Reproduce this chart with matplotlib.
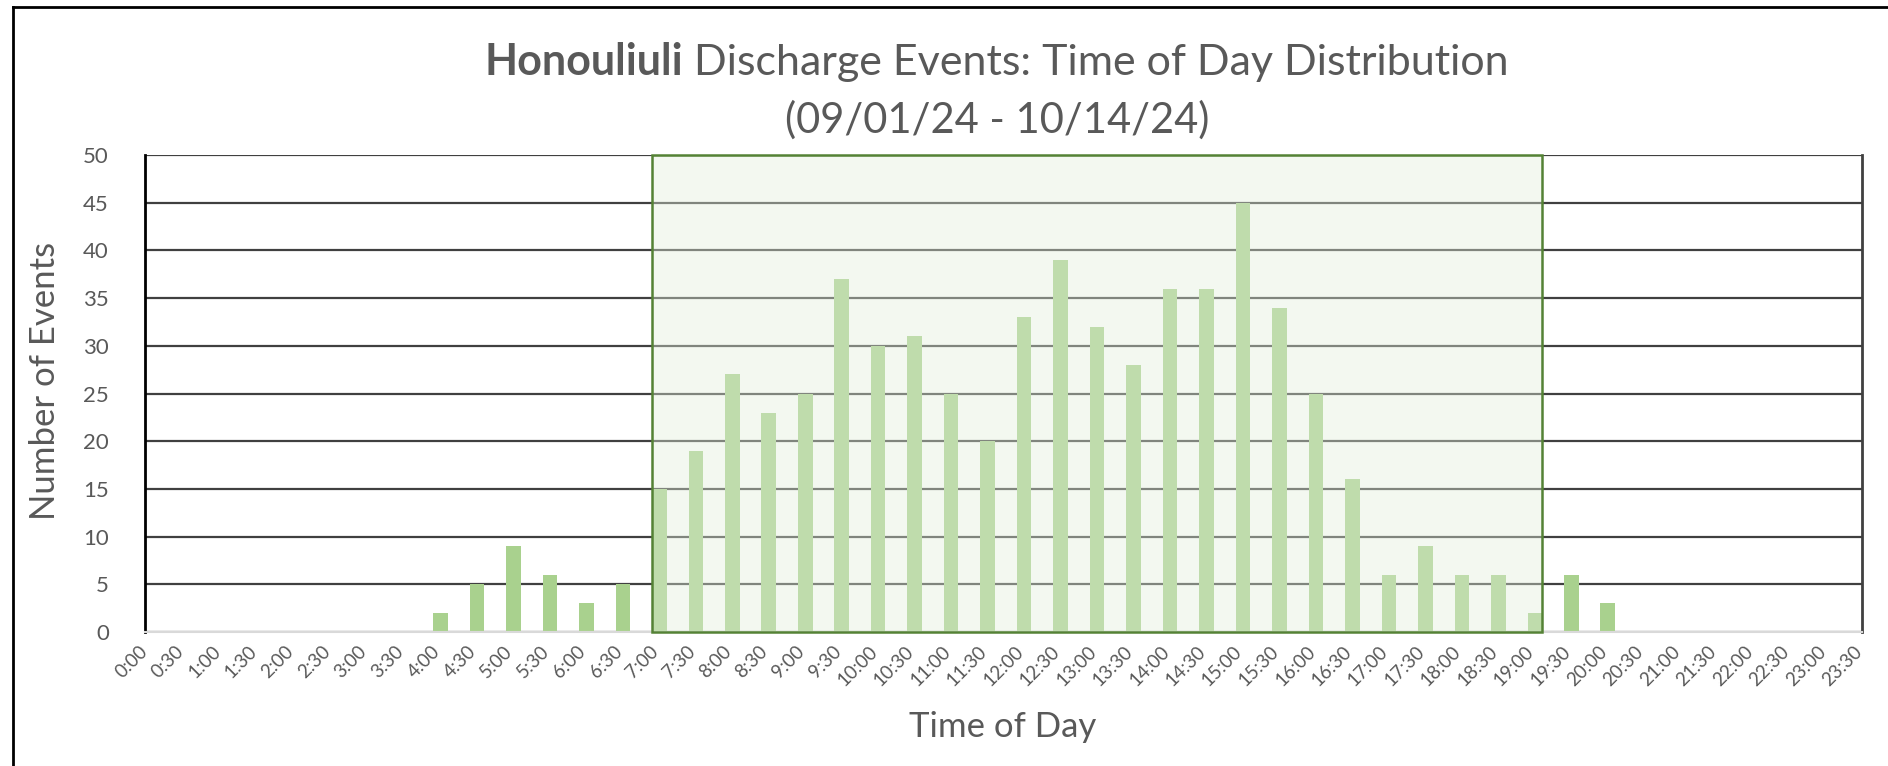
#!/usr/bin/env python
'''
Honouliuli discharge events by time of day (30 min bins)
'''

import numpy as np
import matplotlib
matplotlib.use('Agg')
import matplotlib.pyplot as plt
from matplotlib.patches import Rectangle
from matplotlib.lines import Line2D

# time-of-day bins, 0:00 .. 23:30
times = ['{}:{:02d}'.format(h, m) for h in range(24) for m in (0, 30)]
events = [0, 0, 0, 0, 0, 0, 0, 0,
          2, 5, 9, 6, 3, 5,
          15, 19, 27, 23, 25, 37, 30, 31, 25, 20, 33, 39, 32, 28, 36, 36, 45, 34, 25, 16, 6, 9, 6, 6, 2,
          6, 3,
          0, 0, 0, 0, 0, 0, 0]
window_start = '7:00'
window_end = '19:00'

title_bold = 'Honouliuli'
title_rest = ' Discharge Events: Time of Day Distribution'
title_dates = '(09/01/24 - 10/14/24)'

FONT = 'Lato'
TXT = '#595959'
BAR = '#A9D18E'


def main():
    plt.rcParams['font.family'] = [FONT, 'DejaVu Sans']

    W, H = 1888, 766
    fig = plt.figure(figsize=(W / 100, H / 100), dpi=100)
    ax = fig.add_axes([145 / W, 134 / H, (1862 - 145) / W, (632 - 155) / H])

    x = np.arange(len(times))
    bw = 0.4
    ax.bar(x, events, width=bw, align='edge', color=BAR, zorder=2)

    ax.set_ylim(0, 50)
    ax.set_xlim(0.205, 47.17)
    ax.set_yticks(range(0, 51, 5))
    ax.yaxis.grid(True, color='#404040', linewidth=1.6, zorder=1)
    ax.set_axisbelow(True)

    # daytime window shading
    i0 = times.index(window_start)
    i1 = times.index(window_end)
    ax.add_patch(Rectangle((i0, 0), i1 + bw - i0, 50, facecolor='#E2EFDA', alpha=0.4,
                           edgecolor='none', zorder=3))
    ax.add_patch(Rectangle((i0, 0), i1 + bw - i0, 50, fill=False,
                           edgecolor='#548235', linewidth=1.8, zorder=4, clip_on=False))

    ax.spines['top'].set_visible(False)
    ax.spines['left'].set_color('black')
    ax.spines['left'].set_linewidth(2)
    ax.spines['right'].set_color('#404040')
    ax.spines['right'].set_linewidth(2)
    ax.spines['bottom'].set_color('#D9D9D9')
    ax.spines['bottom'].set_linewidth(1.5)

    ax.set_xticks(x + 0.1)
    ax.set_xticklabels(times, rotation=45, ha='right', va='center', rotation_mode='anchor',
                       fontsize=13.5, color=TXT)
    ax.tick_params(axis='x', length=0, pad=12)
    ax.tick_params(axis='y', length=0, pad=26, labelsize=16, labelcolor=TXT)

    fig.text(45 / W, 1 - 381 / H, 'Number of Events', rotation=90, ha='center', va='center',
             fontsize=25, color=TXT)
    fig.text(1003 / W, 1 - 727 / H, 'Time of Day', ha='center', va='center',
             fontsize=25, color=TXT)

    # title: bold word + regular text, centred together
    cx = 997 / W
    y1 = 1 - 75 / H
    t1 = fig.text(0, y1, title_bold, fontsize=31, fontweight='bold', color=TXT, va='baseline')
    t2 = fig.text(0, y1, title_rest, fontsize=31, color=TXT, va='baseline')
    r = fig.canvas.get_renderer()
    w1 = t1.get_window_extent(r).width / W
    w2 = t2.get_window_extent(r).width / W
    t1.set_x(cx - (w1 + w2) / 2)
    t2.set_x(cx - (w1 + w2) / 2 + w1)
    fig.text(cx, 1 - 133 / H, title_dates, fontsize=30, color=TXT, ha='center', va='baseline')

    # chart frame (screenshot crops right / bottom)
    fig.add_artist(Line2D([13 / W, 1], [1 - 7 / H, 1 - 7 / H], color='black', linewidth=2))
    fig.add_artist(Line2D([13 / W, 13 / W], [0, 1 - 7 / H], color='black', linewidth=2))

    fig.savefig('out.png', dpi=100)
    plt.close(fig)


if __name__ == '__main__':
    main()
